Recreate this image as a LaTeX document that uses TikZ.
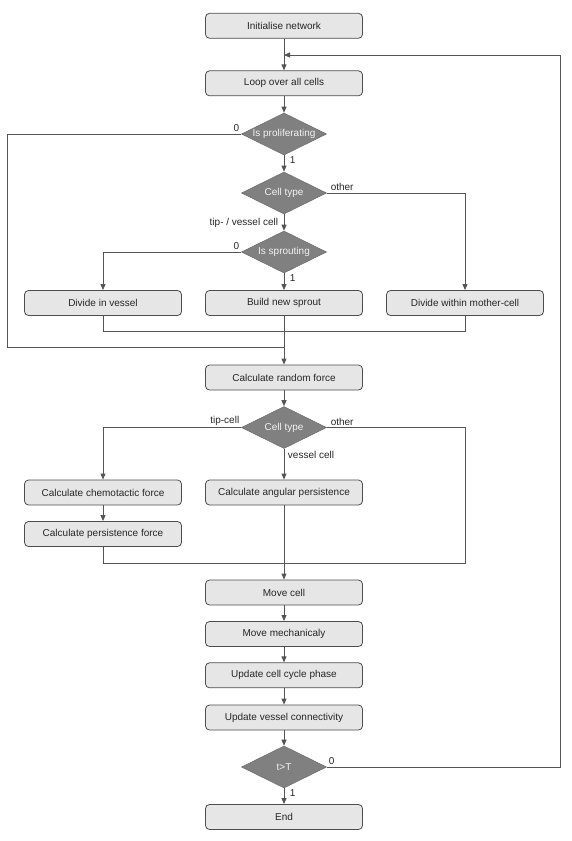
\documentclass[tikz,border=0pt]{standalone}
\usepackage{fontspec}
\setmainfont{Liberation Sans}
\usepackage{tikz}
\usetikzlibrary{arrows.meta,shapes.geometric}
\definecolor{boxfill}{HTML}{E6E6E6}
\definecolor{boxline}{HTML}{4D4D4D}
\definecolor{decfill}{HTML}{808080}
\definecolor{flowline}{HTML}{555555}
\newcommand{\dlabel}[1]{\makebox[0pt]{#1}}

\begin{document}
\begin{tikzpicture}[x=1pt, y=-1pt,
      proc/.style={rectangle, rounded corners=4pt, draw=boxline, fill=boxfill, line width=0.8pt,
                   minimum width=157pt, minimum height=25pt, inner sep=0pt, text=black!85,
                   font=\fontsize{10pt}{12pt}\selectfont},
      decision/.style={diamond, draw=boxline!80, fill=decfill, line width=0.6pt, inner sep=0pt,
                   minimum width=85pt, minimum height=42pt, text=white!95!black,
                   font=\fontsize{10pt}{12pt}\selectfont},
      flow/.style={-{Triangle[length=6pt, width=5pt]}, draw=flowline, line width=0.9pt},
      link/.style={draw=flowline, line width=0.9pt},
      tag/.style={inner sep=1.5pt, text=black!85, font=\fontsize{10pt}{12pt}\selectfont}
    ]
    \useasboundingbox (0,0) rectangle (572,841);

    % main column
    \node[proc] (init) at (284,25.8) {Initialise network};
    \node[proc] (loop) at (284,83.3) {Loop over all cells};
    \node[decision] (prolif) at (284,134) {\dlabel{Is proliferating}};
    \node[decision] (typeA) at (284,193) {\dlabel{Cell type}};
    \node[decision] (sprout) at (284,252) {\dlabel{Is sprouting}};
    \node[proc] (divvessel) at (103,303) {Divide in vessel};
    \node[proc] (newsprout) at (284,303) {Build new sprout};
    \node[proc] (divmother) at (465,303) {Divide within mother-cell};
    \node[proc] (random) at (284,377.5) {Calculate random force};
    \node[decision] (typeB) at (284,427.5) {\dlabel{Cell type}};
    \node[proc] (chemo) at (103,492.5) {Calculate chemotactic force};
    \node[proc] (angular) at (284,492.5) {Calculate angular persistence};
    \node[proc] (persist) at (103,534) {Calculate persistence force};
    \node[proc] (move) at (284,592.5) {Move cell};
    \node[proc] (mech) at (284,634) {Move mechanicaly};
    \node[proc] (cycle) at (284,675.3) {Update cell cycle phase};
    \node[proc] (connect) at (284,717.5) {Update vessel connectivity};
    \node[decision] (done) at (284,767) {\dlabel{t>T}};
    \node[proc] (stop) at (284,817) {End};

    % bends and joins
    \coordinate (back) at (284,55);
    \coordinate (rightrail) at (560,55);
    \coordinate (leftrail) at (7.3,347.7);
    \coordinate (skip) at (284,347.7);
    \coordinate (joinA) at (284,331);
    \coordinate (rightturn) at (465,563.3);
    \coordinate (joinB) at (284,563.3);

    % division part
    \draw[flow] (init) -- (loop);
    \draw[flow] (loop) -- (prolif);
    \draw[flow] (prolif) -- node[tag, right=4pt, pos=0.3] {1} (typeA);
    \draw[link] (prolif.west) node[tag, above left] {0} -| (leftrail) -- (skip);
    \draw[flow] (typeA) -- node[tag, left=4pt, pos=0.55] {tip- / vessel cell} (sprout);
    \draw[flow] (typeA.east) node[tag, above right, xshift=2pt] {other} -| (divmother.north);
    \draw[flow] (sprout.west) node[tag, above left] {0} -| (divvessel.north);
    \draw[flow] (sprout) -- node[tag, right=4pt, pos=0.3] {1} (newsprout);
    \draw[link] (divvessel.south) |- (joinA);
    \draw[link] (divmother.south) |- (joinA);
    \draw[flow] (newsprout) -- (random);

    % force part
    \draw[flow] (random) -- (typeB);
    \draw[flow] (typeB.west) node[tag, above left] {tip-cell} -| (chemo.north);
    \draw[flow] (typeB) -- node[tag, below right, pos=0, xshift=2pt] {vessel cell} (angular);
    \draw[link] (typeB.east) node[tag, above right, xshift=2pt] {other} -| (rightturn) -- (joinB);
    \draw[flow] (chemo) -- (persist);
    \draw[link] (persist.south) |- (joinB);
    \draw[flow] (angular) -- (move);

    % update part
    \draw[flow] (move) -- (mech);
    \draw[flow] (mech) -- (cycle);
    \draw[flow] (cycle) -- (connect);
    \draw[flow] (connect) -- (done);
    \draw[flow] (done) -- node[tag, right=4pt, pos=0.3] {1} (stop);
    \draw[flow] (done.east) node[tag, above right] {0} -| (rightrail) -- (back);
  \end{tikzpicture}
\end{document}
